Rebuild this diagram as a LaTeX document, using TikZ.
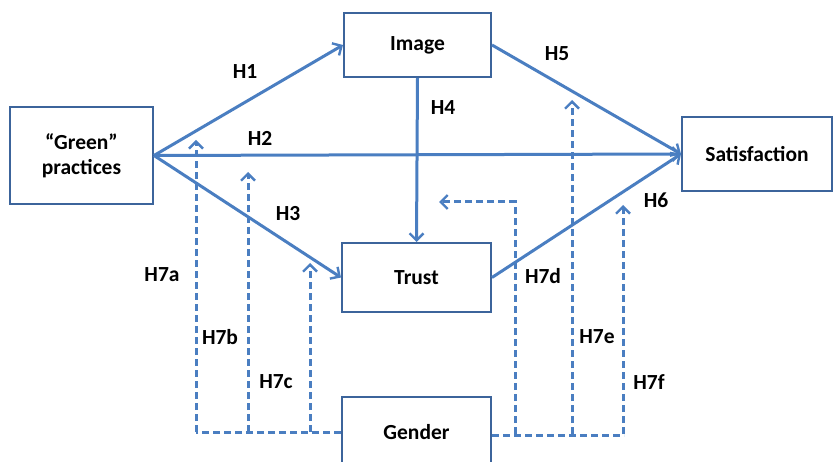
\documentclass[tikz,border=0pt]{standalone}
\usepackage{fontspec}
\setmainfont{Carlito}
\usetikzlibrary{arrows.meta}

\definecolor{lineblue}{RGB}{74,126,193}
\definecolor{boxblue}{RGB}{60,100,155}

\begin{document}
\begin{tikzpicture}[x=1pt,y=-1pt,
    box/.style={draw=boxblue, line width=2pt, fill=white, align=center,
                font=\fontsize{21.5}{25}\selectfont\bfseries},
    hyp/.style={font=\fontsize{21.5}{25}\selectfont\bfseries},
    path/.style={draw=lineblue, line width=3pt, -{Straight Barb[length=7pt,width=14pt,line width=2.4pt]}},
    mod/.style={draw=lineblue, line width=3pt, dash pattern=on 7pt off 4pt, -{Straight Barb[length=7pt,width=14pt,line width=2.4pt]}},
    modline/.style={draw=lineblue, line width=3pt, dash pattern=on 7pt off 4pt}]
    \useasboundingbox (0,0) rectangle (833,462);
    \clip (0,0) rectangle (833,462);

    % Constructs
    \node[box, minimum width=143pt, minimum height=97pt] (green) at (81.5,155.5) {“Green”\\practices};
    \node[box, minimum width=147pt, minimum height=64pt] (image) at (417.5,45) {Image};
    \node[box, minimum width=150pt, minimum height=74pt] (satis) at (757,154) {Satisfaction};
    \node[box, minimum width=149pt, minimum height=69pt] (trust) at (416.5,277.5) {Trust};
    \node[box, minimum width=149pt, minimum height=70pt] (gender) at (416.5,432) {Gender};

    % Direct paths
    \draw[path] (green.east) -- (image.west);
    \draw[path] (green.east) -- (satis.west);
    \draw[path] (green.east) -- (trust.west);
    \draw[path] (image.south) -- (trust.north);
    \draw[path] (image.east) -- (satis.west);
    \draw[path] (trust.east) -- (satis.west);

    % Moderation by gender
    \coordinate (m7a) at (196,140);
    \coordinate (m7b) at (248,172);
    \coordinate (m7c) at (310,263);
    \coordinate (m7d) at (439,202);
    \coordinate (m7e) at (572,100);
    \coordinate (m7f) at (623,205);
    \draw[modline] (gender.west) -- (m7a |- gender.west);
    \draw[mod] (m7a |- gender.west) -- (m7a);
    \draw[mod] (m7b |- gender.west) -- (m7b);
    \draw[mod] (m7c |- gender.west) -- (m7c);
    \draw[modline] ([yshift=-3pt]gender.east) -- ++(132,0);
    \draw[mod] (515,434) -- (515,202) -- (m7d);
    \draw[mod] (m7e |- 0,434) -- (m7e);
    \draw[mod] (m7f |- 0,434) -- (m7f);

    % Labels
    \node[hyp] (h1) at (245,72) {H1};
    \node[hyp] (h2) at (260,138) {H2};
    \node[hyp] (h3) at (288,214) {H3};
    \node[hyp] (h4) at (443,108) {H4};
    \node[hyp] (h5) at (557,54) {H5};
    \node[hyp] (h6) at (656,200) {H6};
    \node[hyp] (h7a) at (162,275) {H7a};
    \node[hyp] (h7b) at (220,337) {H7b};
    \node[hyp] (h7c) at (276,382) {H7c};
    \node[hyp] (h7d) at (543,276) {H7d};
    \node[hyp] (h7e) at (597,337) {H7e};
    \node[hyp] (h7f) at (649,382) {H7f};
\end{tikzpicture}
\end{document}
